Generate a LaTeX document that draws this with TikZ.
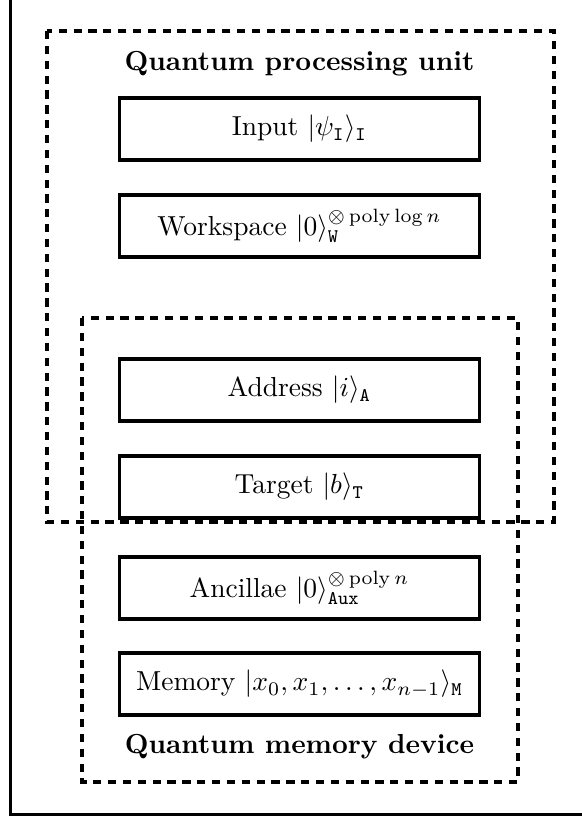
\documentclass[tikz,border=0pt]{standalone}
\begin{document}
\begin{tikzpicture}[x=0.363636pt,y=-0.363636pt,
  regbox/.style={draw, line width=1.2pt, minimum width=131pt, minimum height=22.6pt, inner sep=0pt},
  dashbox/.style={draw, line width=1.45pt, dash pattern=on 3pt off 2.4pt},
  frame/.style={draw, line width=1.2pt},
  title/.style={font=\bfseries}]
\useasboundingbox (0,0) rectangle (582,818);
\begin{scope}
\clip (0,0) rectangle (582,818);
\draw[frame] (10.5,-1.2) rectangle (590,814.5);
\end{scope}
% dashed regions
\draw[dashbox] (47,31) rectangle (553.5,522);
\draw[dashbox] (82,318) rectangle (517.5,782);
% titles
\node[title] (qpu) at (299.5,64) {Quantum processing unit};
\node[title] (qmd) at (299.5,747) {Quantum memory device};
% registers
\node[regbox] (input) at (299.5,129) {Input $|\psi_{\mathtt{I}}\rangle_{\mathtt{I}}$};
\node[regbox] (work) at (299.5,226) {Workspace $|0\rangle_{\mathtt{W}}^{\otimes\mathop{\mathrm{poly}}\log n}$};
\node[regbox] (addr) at (299.5,390) {Address $|i\rangle_{\mathtt{A}}$};
\node[regbox] (targ) at (299.5,487) {Target $|b\rangle_{\mathtt{T}}$};
\node[regbox] (anc) at (299.5,588) {Ancillae $|0\rangle_{\mathtt{Aux}}^{\otimes\mathop{\mathrm{poly}} n}$};
\node[regbox] (mem) at (299.5,684) {Memory $|x_0,x_1,\ldots,x_{n-1}\rangle_{\mathtt{M}}$};
\end{tikzpicture}
\end{document}
